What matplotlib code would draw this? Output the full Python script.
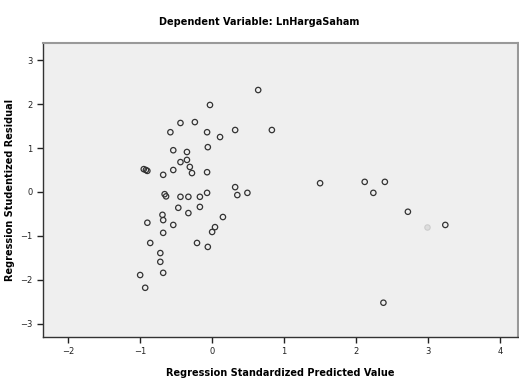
import numpy as np
import matplotlib.pyplot as plt

# Scatterplot: Dependent Variable LnHargaSaham
predicted = [
    0.64, -0.03, -0.44, -0.24, 0.32, 0.83, -0.58, -0.07, 0.11, -0.06,
    -0.54, -0.35, -0.44, -0.35, -0.31, -0.95, -0.92, -0.90, -0.68, -0.54,
    -0.28, -0.07, -0.66, -0.64, -0.44, -0.33, -0.17, -0.07, 0.32, 0.35,
    0.49, -0.47, -0.33, -0.17, -0.69, -0.68, -0.54, -0.90, -0.68, 0.15,
    0.04, 0.00, -0.86, -0.21, -0.06, -0.72, -0.72, -0.68, -1.00, -0.93,
    1.50, 2.12, 2.40, 2.24, 2.72, 3.24, 2.38,
]
residual = [
    2.32, 1.98, 1.57, 1.59, 1.41, 1.41, 1.36, 1.36, 1.25, 1.02,
    0.95, 0.91, 0.68, 0.73, 0.57, 0.52, 0.50, 0.48, 0.39, 0.50,
    0.43, 0.45, -0.05, -0.10, -0.11, -0.11, -0.11, -0.02, 0.11, -0.07,
    -0.02, -0.36, -0.48, -0.34, -0.52, -0.64, -0.75, -0.70, -0.93, -0.57,
    -0.80, -0.91, -1.16, -1.16, -1.25, -1.39, -1.59, -1.84, -1.89, -2.18,
    0.20, 0.23, 0.23, -0.02, -0.45, -0.75, -2.52,
]
# faint smudge near (3.0, -0.8)
faint_x = [2.99]
faint_y = [-0.80]

x_ticks = [-2, -1, 0, 1, 2, 3, 4]
y_ticks = [-3, -2, -1, 0, 1, 2, 3]

fig = plt.figure(figsize=(5.19, 3.80), dpi=100)
ax = fig.add_axes([43 / 519, 43 / 380, 475 / 519, 294 / 380])
ax.set_facecolor('#efefef')

ax.scatter(predicted, residual, s=15, facecolors='none', edgecolors='#333333', linewidths=0.9)
ax.scatter(faint_x, faint_y, s=15, facecolors='#dddddd', edgecolors='#cccccc', linewidths=0.8)

ax.set_xlim(-2.35, 4.25)
ax.set_ylim(-3.30, 3.39)
ax.set_xticks(x_ticks)
ax.set_yticks(y_ticks)
ax.tick_params(direction='out', length=4, width=1, labelsize=6, colors='#222222')

for side in ['top', 'right']:
    ax.spines[side].set_color('#999999')
    ax.spines[side].set_linewidth(1.5)
for side in ['left', 'bottom']:
    ax.spines[side].set_color('#333333')
    ax.spines[side].set_linewidth(1.0)

ax.set_xlabel('Regression Standardized Predicted Value', fontsize=7, fontweight='bold')
ax.xaxis.set_label_coords(0.5, -31 / 294)
ax.set_ylabel('Regression Studentized Residual', fontsize=7, fontweight='bold')
ax.yaxis.set_label_coords(-28 / 475, 0.5)
fig.suptitle('Dependent Variable: LnHargaSaham', fontsize=7, fontweight='bold', y=0.955)

fig.savefig('out.png', dpi=100)
